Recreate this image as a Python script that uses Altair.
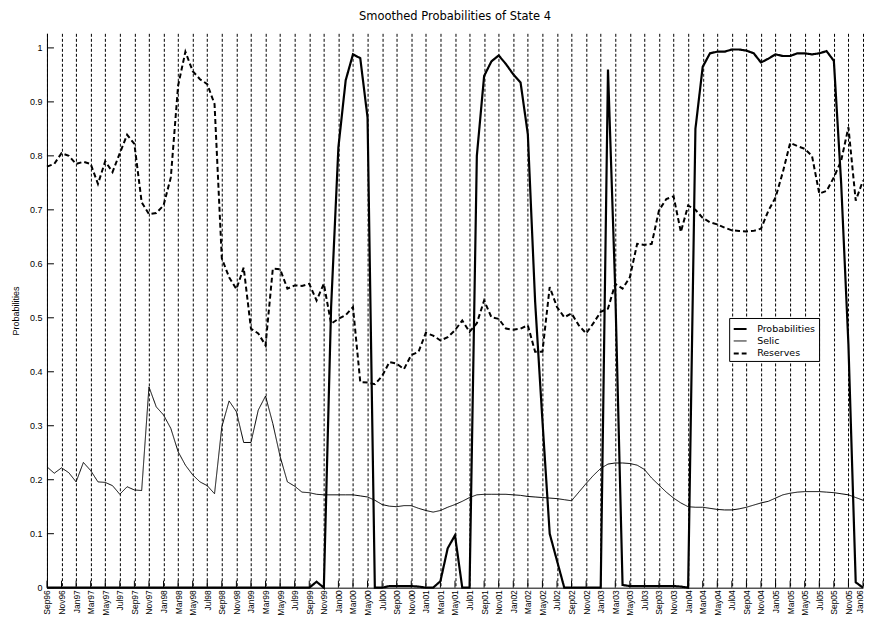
import json
import altair as alt
import pandas as pd

MONTH_NAMES = ["Jan", "Feb", "Mar", "Apr", "May", "Jun", "Jul", "Aug", "Sep", "Oct", "Nov", "Dec"]
periods = []
_y, _m = 1996, 9
for _i in range(113):
    periods.append(f"{MONTH_NAMES[_m - 1]}{_y % 100:02d}")
    _m += 1
    if _m > 12:
        _m = 1
        _y += 1

probabilities = [
    0, 0, 0, 0, 0, 0, 0, 0, 0, 0, 0, 0,
    0, 0, 0, 0, 0, 0, 0, 0, 0, 0, 0, 0,
    0, 0, 0, 0, 0, 0, 0, 0, 0, 0, 0, 0,
    0.0, 0.011, 0.0, 0.52, 0.816, 0.94, 0.988, 0.981, 0.871, 0.0, 0.0, 0.003,
    0.003, 0.003, 0.003, 0.002, 0.0, 0.0, 0.012, 0.073, 0.097, 0.0, 0.0, 0.80,
    0.948, 0.975, 0.986, 0.97, 0.951, 0.936, 0.84, 0.53, 0.31, 0.10, 0.05, 0.0,
    0.0, 0.0, 0.0, 0.0, 0.0, 0.96, 0.55, 0.005, 0.003, 0.003, 0.003, 0.003,
    0.003, 0.003, 0.003, 0.002, 0.0, 0.85, 0.965, 0.99, 0.993, 0.993, 0.997, 0.997,
    0.995, 0.99, 0.973, 0.98, 0.988, 0.985, 0.985, 0.99, 0.99, 0.988, 0.99, 0.994,
    0.976, 0.75, 0.45, 0.01, 0.0,
]

selic = [
    0.224, 0.212, 0.222, 0.213, 0.196, 0.232, 0.217, 0.196, 0.195, 0.189, 0.173, 0.187,
    0.181, 0.180, 0.372, 0.335, 0.320, 0.295, 0.252, 0.227, 0.209, 0.196, 0.189, 0.174,
    0.298, 0.346, 0.326, 0.269, 0.269, 0.329, 0.355, 0.304, 0.243, 0.196, 0.188, 0.177,
    0.176, 0.173, 0.172, 0.172, 0.172, 0.172, 0.172, 0.170, 0.168, 0.162, 0.154, 0.151,
    0.150, 0.152, 0.152, 0.147, 0.143, 0.140, 0.143, 0.149, 0.154, 0.160, 0.167, 0.172,
    0.173, 0.173, 0.173, 0.173, 0.172, 0.171, 0.169, 0.168, 0.167, 0.166, 0.165, 0.163,
    0.161, 0.177, 0.193, 0.208, 0.221, 0.229, 0.231, 0.231, 0.230, 0.227, 0.219, 0.203,
    0.190, 0.177, 0.166, 0.157, 0.150, 0.149, 0.149, 0.147, 0.145, 0.144, 0.144, 0.146,
    0.149, 0.153, 0.157, 0.160, 0.166, 0.172, 0.175, 0.177, 0.178, 0.178, 0.178, 0.177,
    0.176, 0.174, 0.172, 0.167, 0.162,
]

reserves = [
    0.780, 0.785, 0.805, 0.800, 0.785, 0.789, 0.785, 0.748, 0.790, 0.770, 0.805, 0.839,
    0.822, 0.714, 0.692, 0.694, 0.708, 0.760, 0.930, 0.993, 0.957, 0.942, 0.933, 0.896,
    0.610, 0.575, 0.553, 0.593, 0.480, 0.471, 0.449, 0.591, 0.590, 0.554, 0.560, 0.559,
    0.563, 0.532, 0.563, 0.489, 0.498, 0.505, 0.520, 0.381, 0.380, 0.377, 0.392, 0.418,
    0.415, 0.405, 0.431, 0.437, 0.472, 0.467, 0.458, 0.464, 0.477, 0.495, 0.474, 0.490,
    0.532, 0.501, 0.498, 0.480, 0.478, 0.480, 0.486, 0.437, 0.437, 0.557, 0.520, 0.501,
    0.508, 0.486, 0.471, 0.490, 0.511, 0.517, 0.563, 0.554, 0.575, 0.637, 0.635, 0.637,
    0.699, 0.720, 0.725, 0.659, 0.708, 0.700, 0.685, 0.677, 0.673, 0.667, 0.662, 0.661,
    0.660, 0.661, 0.665, 0.698, 0.723, 0.770, 0.824, 0.818, 0.813, 0.800, 0.730, 0.735,
    0.760, 0.791, 0.853, 0.717, 0.754,
]

series_names = ["Probabilities", "Selic", "Reserves"]
y_ticks = [0, 0.1, 0.2, 0.3, 0.4, 0.5, 0.6, 0.7, 0.8, 0.9, 1]
x_ticks = list(range(0, 113, 2))

rows = []
for name, vals in zip(series_names, [probabilities, selic, reserves]):
    for i, v in enumerate(vals):
        rows.append({"t": i, "period": periods[i], "value": v, "series": name})
df = pd.DataFrame(rows)

W, H = 817, 555
FONT = "Liberation Sans"
WIDE = "DejaVu Sans"

x_enc = alt.X(
    "t:Q",
    scale=alt.Scale(domain=[0, 112], nice=False, zero=False),
    axis=alt.Axis(
        values=x_ticks,
        labelExpr=json.dumps(periods) + "[datum.value]",
        labelAngle=-90,
        labelFont=FONT,
        labelFontSize=8.5,
        labelColor="black",
        labelPadding=2,
        labelOffset={"condition": {"test": "datum.value >= 112", "value": -4}, "value": 0},
        labelOverlap=False,
        labelFlush=False,
        grid=True,
        gridDash=[3, 2],
        gridColor="black",
        gridOpacity=1,
        gridWidth=1,
        tickSize=0,
        domainColor="black",
        title=None,
    ),
)
y_enc = alt.Y(
    "value:Q",
    scale=alt.Scale(domain=[0, 1.027], nice=False, zero=True),
    axis=alt.Axis(
        values=y_ticks,
        format=".1~f",
        labelFont=FONT,
        labelFontSize=9,
        labelColor="black",
        labelPadding=5,
        grid=False,
        tickSize=0,
        domainColor="black",
        title="Probabilities",
        titleFont=FONT,
        titleFontSize=9,
        titleFontWeight="normal",
        titleColor="black",
        titlePadding=9,
    ),
)

legend = alt.Legend(
    orient="none",
    legendX=683,
    legendY=285,
    title=None,
    symbolType="stroke",
    symbolSize=165,
    symbolStrokeColor="black",
    labelFont=WIDE,
    labelFontSize=9.5,
    labelColor="black",
    strokeColor="black",
    fillColor="white",
    padding=3,
    rowPadding=0,
    labelOffset=9,
)

lines = alt.Chart(df).mark_line(color="black", strokeCap="butt", strokeJoin="miter").encode(
    x=x_enc,
    y=y_enc,
    strokeDash=alt.StrokeDash(
        "series:N",
        scale=alt.Scale(type="ordinal", domain=series_names, range=[[1, 0], [1, 0], [5, 3]]),
        legend=legend,
    ),
    strokeWidth=alt.StrokeWidth(
        "series:N",
        scale=alt.Scale(type="ordinal", domain=series_names, range=[2.2, 1, 2]),
        legend=legend,
    ),
    order="t:Q",
)

ytick_df = pd.DataFrame({"value": y_ticks})
xtick_df = pd.DataFrame({"t": x_ticks})

y_tick_marks = alt.Chart(ytick_df).mark_rule(color="black", strokeWidth=1).encode(
    y=y_enc, x=alt.value(0), x2=alt.value(7)
)
x_tick_marks = alt.Chart(xtick_df).mark_rule(color="black", strokeWidth=1).encode(
    x=x_enc, y=alt.value(H), y2=alt.value(H - 7)
)

chart = alt.layer(y_tick_marks, x_tick_marks, lines).properties(
    width=W,
    height=H,
    title=alt.TitleParams(
        "Smoothed Probabilities of State 4",
        font=WIDE,
        fontSize=11.5,
        fontWeight="normal",
        color="black",
        anchor="middle",
        offset=11,
    ),
    autosize=alt.AutoSizeParams(type="none"),
    padding={"left": 39, "top": 25, "right": 3, "bottom": 28},
).configure_view(stroke=None)

chart.save("out.html", embed_options={"renderer": "svg", "actions": False})
